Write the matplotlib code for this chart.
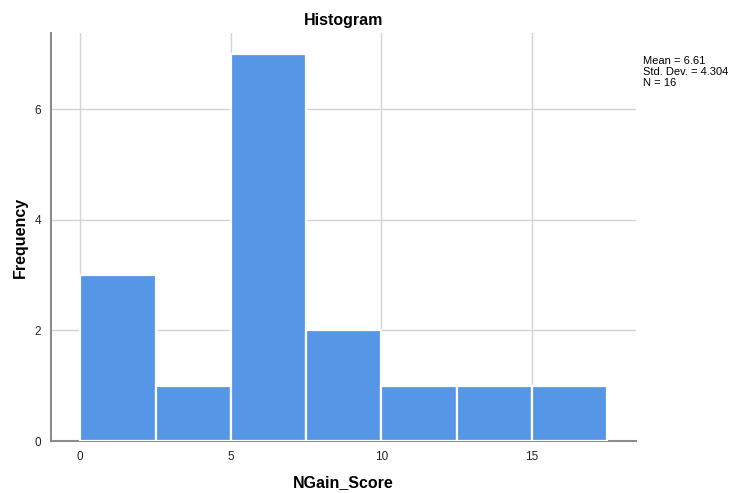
import numpy as np
import matplotlib.pyplot as plt

plt.rcParams['font.family'] = ['Liberation Sans', 'DejaVu Sans']

bin_edges = [0, 2.5, 5, 7.5, 10, 12.5, 15, 17.5]
counts = [3, 1, 7, 2, 1, 1, 1]
x_ticks = [0, 5, 10, 15]
y_ticks = [0, 2, 4, 6]
stats_text = "Mean = 6.61\nStd. Dev. = 4.304\nN = 16"

fig = plt.figure(figsize=(7.29, 4.93), dpi=100)
ax = fig.add_axes([51 / 729, 52 / 493, 585 / 729, 408 / 493])

widths = np.diff(bin_edges)
ax.bar(bin_edges[:-1], counts, width=widths, align='edge',
       color='#5596E6', edgecolor='white', linewidth=1.6, zorder=3)

ax.set_xlim(-0.97, 18.45)
ax.set_ylim(0, 7.38)
ax.set_xticks(x_ticks)
ax.set_yticks(y_ticks)
ax.grid(True, color='#d4d4d4', linewidth=1.0, zorder=0)
ax.tick_params(length=0, labelsize=8.5, colors='#222222', pad=7)

for side in ['top', 'right']:
    ax.spines[side].set_visible(False)
for side in ['left', 'bottom']:
    ax.spines[side].set_color('#8c8c8c')
    ax.spines[side].set_linewidth(1.5)

ax.set_title("Histogram", fontsize=11.5, fontweight='bold', pad=6)
ax.set_xlabel("NGain_Score", fontsize=11.5, fontweight='bold', labelpad=9)
ax.set_ylabel("Frequency", fontsize=11.5, fontweight='bold', labelpad=5)

fig.text(643 / 729, 1 - 56 / 493, stats_text, fontsize=8, va='top', ha='left',
         linespacing=1.1)

fig.savefig("out.png", dpi=100)
